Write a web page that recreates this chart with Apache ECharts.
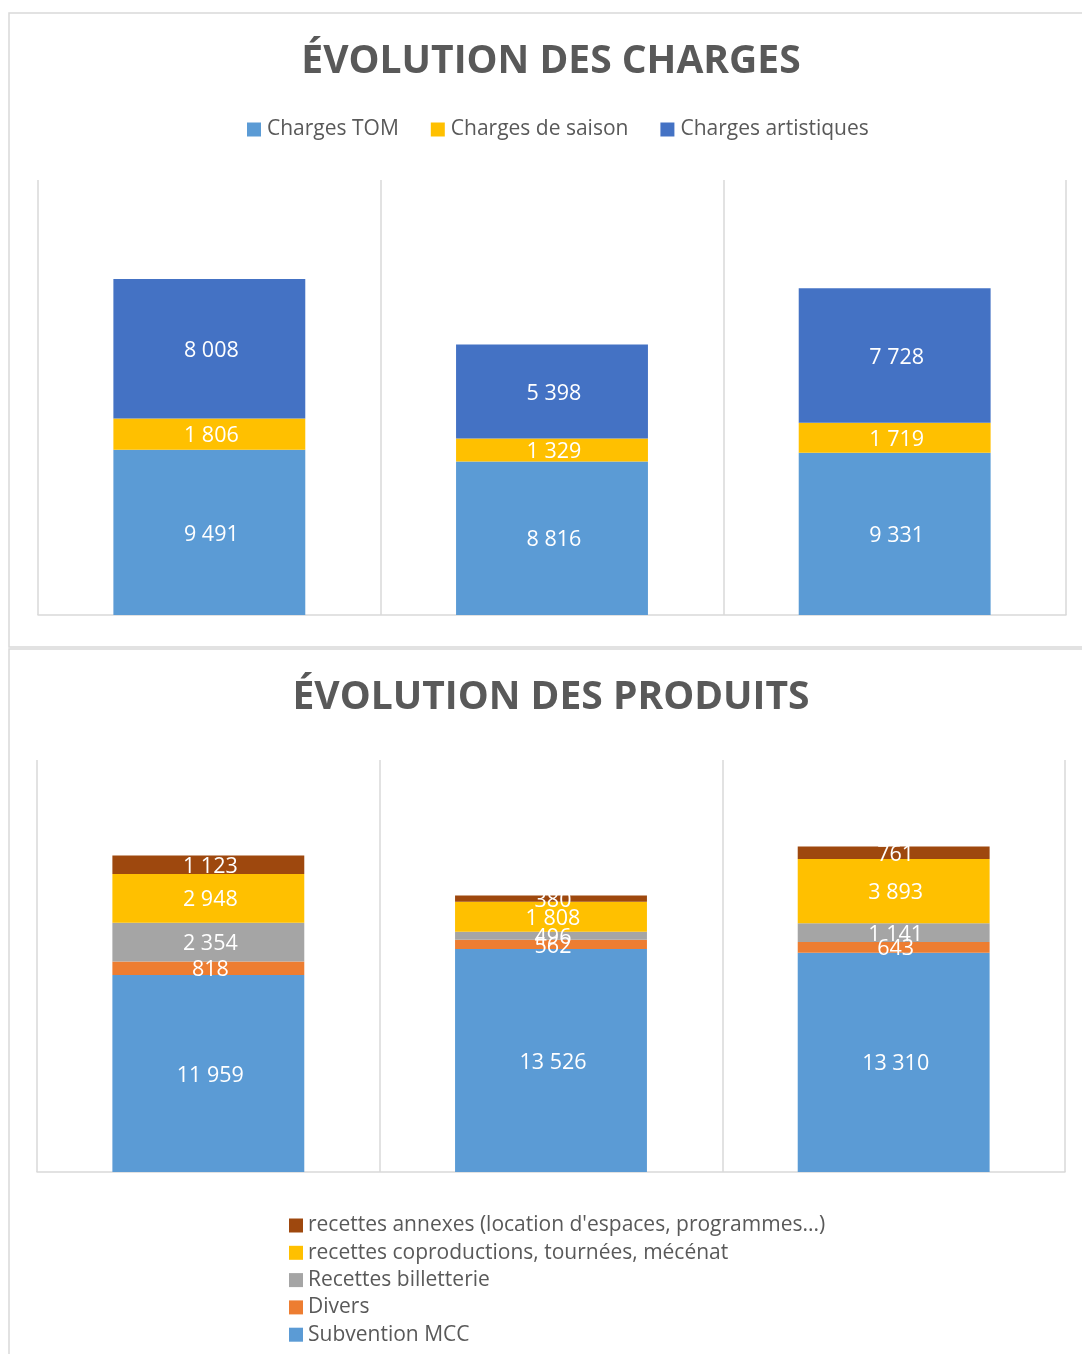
<!DOCTYPE html>
<html>
<head>
<meta charset="utf-8">
<script src="https://cdn.jsdelivr.net/npm/echarts@6/dist/echarts.min.js"></script>
<style>
html,body{margin:0;padding:0;background:#fff;}
#chart{width:1082px;height:1354px;}
</style>
</head>
<body>
<div id="chart"></div>
<script>
// Categories (not labelled in the reference)
const categories = ['Exercice 1', 'Exercice 2', 'Exercice 3'];

// Charges
const chargesTOM = [9491, 8816, 9331];
const chargesSaison = [1806, 1329, 1719];
const chargesArtistiques = [8008, 5398, 7728];

// Produits
const subventionMCC = [11959, 13526, 13310];
const divers = [818, 562, 643];
const recettesBilletterie = [2354, 496, 1141];
const recettesCoproductions = [2948, 1808, 3893];
const recettesAnnexes = [1123, 380, 761];

const yMax = 25000;

const textColor = '#595959';
const lineColor = '#d9d9d9';
const FONT = '"Open Sans", "Noto Sans", sans-serif';

function fmt(v) {
  return String(v).replace(/\B(?=(\d{3})+(?!\d))/g, ' ');
}

function barSeries(name, data, color, idx) {
  return {
    name: name,
    type: 'bar',
    stack: 'total' + idx,
    xAxisIndex: idx,
    yAxisIndex: idx,
    data: data,
    barWidth: '56%',
    itemStyle: { color: color },
    label: {
      show: true,
      position: 'inside',
      offset: [2, 2],
      color: '#ffffff',
      fontSize: 21.5,
      fontFamily: FONT,
      formatter: p => fmt(p.value)
    }
  };
}

function xAx(idx) {
  return {
    type: 'category',
    gridIndex: idx,
    data: categories,
    axisLabel: { show: false },
    axisTick: { show: false },
    axisLine: { show: true, lineStyle: { color: lineColor, width: 1.5 } },
    splitLine: { show: true, lineStyle: { color: lineColor, width: 1.5 } }
  };
}
function yAx(idx) {
  return {
    type: 'value',
    gridIndex: idx,
    min: 0,
    max: yMax,
    show: false,
    splitLine: { show: false }
  };
}

const chart = echarts.init(document.getElementById('chart'), null, { renderer: 'canvas' });

const option = {
  backgroundColor: '#ffffff',
  animation: false,
  graphic: [
    { type: 'rect', shape: { x: 9, y: 13, width: 1100, height: 634 }, style: { fill: 'none', stroke: lineColor, lineWidth: 1.5 }, z: -10 },
    { type: 'rect', shape: { x: 9, y: 649, width: 1100, height: 740 }, style: { fill: 'none', stroke: lineColor, lineWidth: 1.5 }, z: -10 }
  ],
  title: [
    {
      text: 'ÉVOLUTION DES CHARGES',
      left: 546, textAlign: 'center', top: 37,
      textStyle: { color: textColor, fontSize: 39, fontWeight: 'bold', fontFamily: FONT }
    },
    {
      text: 'ÉVOLUTION DES PRODUITS',
      left: 546, textAlign: 'center', top: 673,
      textStyle: { color: textColor, fontSize: 39, fontWeight: 'bold', fontFamily: FONT }
    }
  ],
  legend: [
    {
      data: ['Charges TOM', 'Charges de saison', 'Charges artistiques'],
      top: 114,
      left: 242,
      itemWidth: 14, itemHeight: 14, itemGap: 32,
      icon: 'rect',
      textStyle: { color: textColor, fontSize: 21, fontFamily: FONT, padding: [0, 0, 0, 1] }
    },
    {
      data: ['recettes annexes (location d\'espaces, programmes...)', 'recettes coproductions, tournées, mécénat', 'Recettes billetterie', 'Divers', 'Subvention MCC'],
      orient: 'vertical',
      left: 284,
      top: 1210,
      itemWidth: 14, itemHeight: 14, itemGap: 6.3,
      icon: 'rect',
      textStyle: { color: textColor, fontSize: 21, fontFamily: FONT, lineHeight: 21, padding: [0, 0, 0, 0] }
    }
  ],
  grid: [
    { left: 38, top: 180, width: 1028, height: 435 },
    { left: 37, top: 760, width: 1028, height: 412 }
  ],
  xAxis: [xAx(0), xAx(1)],
  yAxis: [yAx(0), yAx(1)],
  series: [
    barSeries('Charges TOM', chargesTOM, '#5B9BD5', 0),
    barSeries('Charges de saison', chargesSaison, '#FFC000', 0),
    barSeries('Charges artistiques', chargesArtistiques, '#4472C4', 0),
    barSeries('Subvention MCC', subventionMCC, '#5B9BD5', 1),
    barSeries('Divers', divers, '#ED7D31', 1),
    barSeries('Recettes billetterie', recettesBilletterie, '#A5A5A5', 1),
    barSeries('recettes coproductions, tournées, mécénat', recettesCoproductions, '#FFC000', 1),
    barSeries('recettes annexes (location d\'espaces, programmes...)', recettesAnnexes, '#9E480E', 1)
  ]
};
chart.setOption(option);
</script>
</body>
</html>
